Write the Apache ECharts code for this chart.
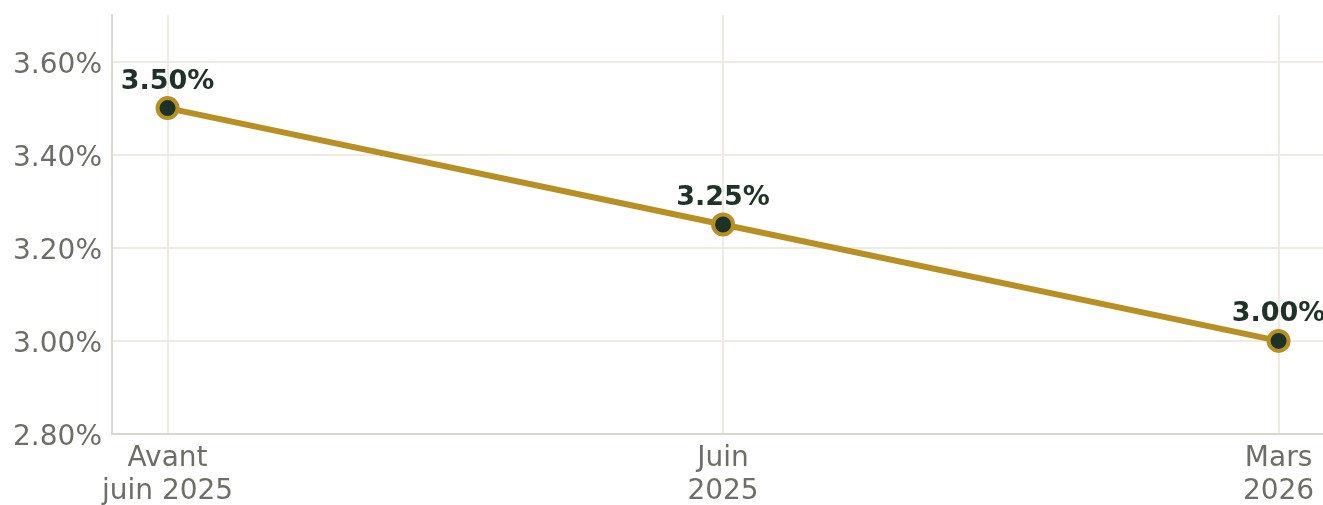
<!DOCTYPE html>
<html>
<head>
  <meta charset="utf-8">
  <title>Taux</title>
  <script src="https://cdn.jsdelivr.net/npm/echarts@6/dist/echarts.min.js"></script>
  <style>
    body { margin: 0; padding: 0; background: #fff; }
    #main { width: 1323px; height: 505px; }
  </style>
</head>
<body>
  <div id="main"></div>
  <script type="text/javascript">
    var categories = ['Avant\njuin 2025', 'Juin\n2025', 'Mars\n2026'];
    var rates = [3.50, 3.25, 3.00];
    var yTicks = [2.8, 3.0, 3.2, 3.4, 3.6];

    var FONT = 'DejaVu Sans';
    var chart = echarts.init(document.getElementById('main'));

    var points = [];
    for (var i = 0; i < rates.length; i++) {
      points.push([i, rates[i]]);
    }
    var xTicks = categories.map(function (c, i) { return i; });

    var option = {
      animation: false,
      textStyle: { fontFamily: FONT },
      grid: { left: 112, right: 0, top: 15, bottom: 71, outerBoundsMode: 'none', containLabel: false },
      xAxis: {
        type: 'value',
        min: -0.1,
        max: 2.08,
        axisLine: { show: true, onZero: false, lineStyle: { color: '#ddd8cc', width: 2 } },
        axisTick: { show: false, customValues: xTicks },
        splitLine: { show: true, lineStyle: { color: '#efebe2', width: 2 } },
        axisLabel: {
          customValues: xTicks,
          color: '#6e6e68',
          fontFamily: FONT,
          fontSize: 28,
          lineHeight: 33,
          margin: 8,
          align: 'center',
          formatter: function (v) { return categories[Math.round(v)]; }
        }
      },
      yAxis: {
        type: 'value',
        min: 2.8,
        max: 3.7,
        axisLine: { show: true, onZero: false, lineStyle: { color: '#ddd8cc', width: 2 } },
        axisTick: { show: false, customValues: yTicks },
        splitLine: { show: true, lineStyle: { color: '#efebe2', width: 2 } },
        axisLabel: {
          customValues: yTicks,
          color: '#6e6e68',
          fontFamily: FONT,
          fontSize: 28,
          margin: 10,
          verticalAlign: 'top',
          lineHeight: 8,
          formatter: function (v) { return v.toFixed(2) + '%'; }
        }
      },
      series: [{
        type: 'line',
        data: points,
        symbol: 'circle',
        symbolSize: 20,
        lineStyle: { color: '#b88f22', width: 6 },
        itemStyle: { color: '#1b3224', borderColor: '#b88f22', borderWidth: 4 },
        label: {
          show: true,
          position: 'top',
          distance: 1,
          color: '#1e3325',
          fontFamily: FONT,
          fontSize: 27,
          fontWeight: 'bold',
          formatter: function (p) { return p.value[1].toFixed(2) + '%'; }
        }
      }]
    };

    chart.setOption(option);
  </script>
</body>
</html>
